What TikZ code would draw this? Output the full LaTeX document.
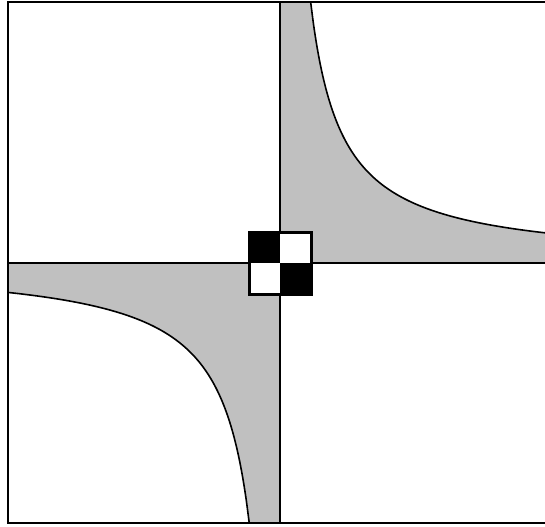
\documentclass[tikz,border=0pt]{standalone}
\usepackage{tikz}
\usetikzlibrary{calc}
\definecolor{regiongray}{RGB}{192,192,192}
\tikzset{
  % ramka va o'qlar
  frameline/.style = {line width=1.3pt, draw=black},
  axisline/.style  = {line width=0.9pt, draw=black},
  % giperbola
  hypline/.style   = {line width=0.8pt, draw=black},
  hypfill/.style   = {fill=regiongray},
  % shaxmat katakchalari
  cellblack/.style = {fill=black},
  cellbox/.style   = {line width=1.5pt, draw=black, fill=white},
}
\begin{document}
\begin{tikzpicture}[x=0.5pt,y=-0.5pt]
  \useasboundingbox (0,0) rectangle (545,526);
  \coordinate (O) at (280,263);
  \def\k{8000}
  % I chorak: giperbola ostidagi soha
  \fill[hypfill] (280,2) -- (280+\k/261,2)
    -- plot[domain=\k/261:265,samples=80,smooth] ({280+\x},{263-\k/\x})
    -- (545,263) -- (O) -- cycle;
  \draw[hypline] plot[domain=\k/261:265,samples=80,smooth] ({280+\x},{263-\k/\x});
  % III chorak
  \fill[hypfill] (280,523) -- (280-\k/260,523)
    -- plot[domain=\k/260:272,samples=80,smooth] ({280-\x},{263+\k/\x})
    -- (8,263) -- (O) -- cycle;
  \draw[hypline] plot[domain=\k/260:272,samples=80,smooth] ({280-\x},{263+\k/\x});
  % O'qlar
  \draw[axisline] (8,263) -- (545,263);
  \draw[axisline] (280,2) -- (280,523);
  % Ramka (o'ng tomoni yo'q)
  \draw[frameline] (545,2) -- (8,2) -- (8,523) -- (545,523);
  % Markazdagi shaxmat
  \draw[cellbox] ($(O)+(-31,-31)$) rectangle ($(O)+(31,31)$);
  \fill[cellblack] ($(O)+(-31,-31)$) rectangle (O);
  \fill[cellblack] (O) rectangle ($(O)+(31,31)$);
  \draw[cellbox,fill=none] ($(O)+(-31,-31)$) rectangle ($(O)+(31,31)$);
\end{tikzpicture}
\end{document}
